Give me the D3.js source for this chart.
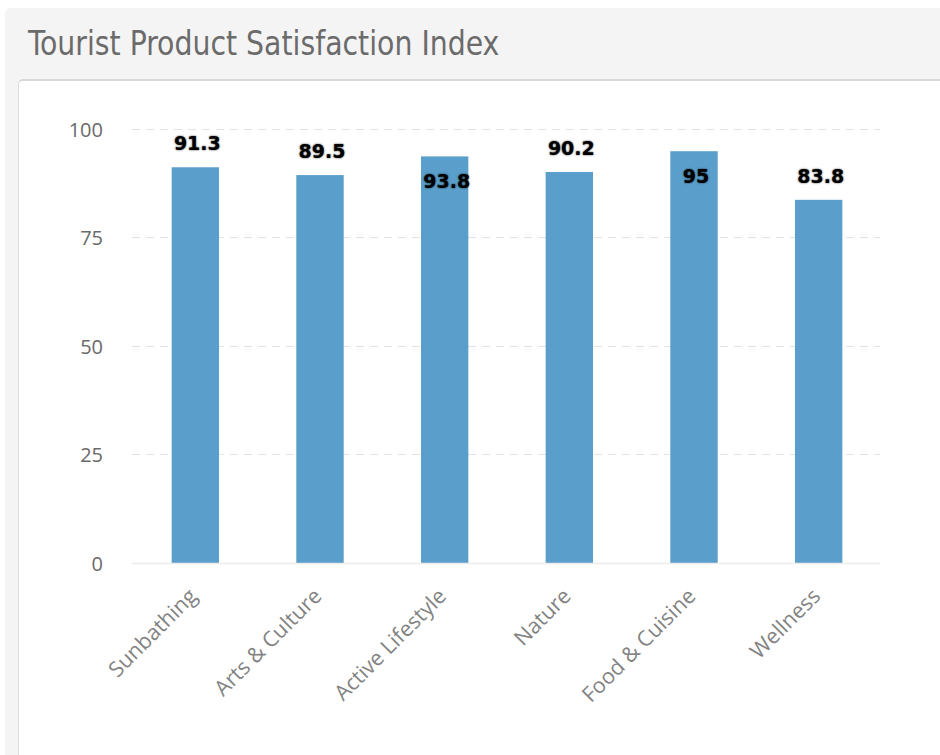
<!DOCTYPE html>
<html>
<head>
<meta charset="utf-8">
<script src="https://cdn.jsdelivr.net/npm/d3@7"></script>
<style>
  html, body { margin: 0; padding: 0; background: #fff; width: 940px; height: 755px; overflow: hidden; }
  .panel { position: absolute; left: 5px; top: 8px; width: 960px; height: 800px; background: #f4f4f4; border-radius: 6px; }
  .title { position: absolute; left: 23px; top: 16px; font-family: "DejaVu Sans Condensed", "DejaVu Sans", sans-serif; font-size: 31.5px; color: #6b6b6b; white-space: nowrap; transform: scaleY(1.08); transform-origin: left top; }
  .card { position: absolute; left: 13px; top: 71px; width: 960px; height: 800px; background: #fff; border: 1px solid #dcdcdc; border-top: 2px solid #d8d8d8; border-radius: 5px; }
  svg { position: absolute; left: 0; top: 0; }
</style>
</head>
<body>
<div class="panel">
  <div class="title">Tourist Product Satisfaction Index</div>
  <div class="card"></div>
</div>
<svg id="chart" width="940" height="755"></svg>
<script>
const categories = ["Sunbathing", "Arts & Culture", "Active Lifestyle", "Nature", "Food & Cuisine", "Wellness"];
const values = [91.3, 89.5, 93.8, 90.2, 95, 83.8];
const yTicks = [0, 25, 50, 75, 100];

const svg = d3.select("#chart");
const pLeft = 133, pRight = 881, pTop = 129.5, pBottom = 563.5;

const x = d3.scaleBand().domain(categories).range([pLeft, pRight]).paddingInner(0.62).paddingOuter(0.31);
const y = d3.scaleLinear().domain([0, 100]).range([pBottom, pTop]);

// gridlines
svg.append("g").selectAll("line").data(yTicks.filter(d => d !== 0)).join("line")
  .attr("x1", pLeft - 1).attr("x2", pRight - 1)
  .attr("y1", d => Math.round(y(d)) - 0.5).attr("y2", d => Math.round(y(d)) - 0.5)
  .attr("stroke", "#e3e3e3").attr("stroke-width", 1).attr("stroke-dasharray", "8,6");

// y axis labels
const yAxis = d3.axisLeft(y).tickValues(yTicks).tickSize(0).tickPadding(0).tickFormat(d3.format("d"));
const yg = svg.append("g").attr("transform", `translate(${pLeft - 30},0)`).call(yAxis);
yg.select(".domain").remove();
yg.selectAll("text").attr("font-family", "Open Sans, sans-serif").attr("font-size", 20).attr("fill", "#6a6a6a").attr("dy", "0.34em");

// bars
svg.append("g").selectAll("rect").data(values).join("rect")
  .attr("x", (d, i) => x(categories[i]))
  .attr("width", x.bandwidth())
  .attr("y", d => y(d))
  .attr("height", d => pBottom - y(d))
  .attr("fill", "#5a9fcb");

// baseline
svg.append("line").attr("x1", pLeft - 1).attr("x2", pRight - 1)
  .attr("y1", Math.round(pBottom) - 0.5).attr("y2", Math.round(pBottom) - 0.5)
  .attr("stroke", "#ececec").attr("stroke-width", 1.5);

// x axis labels
const xAxis = d3.axisBottom(x).tickSize(0).tickPadding(0);
const xg = svg.append("g").attr("transform", `translate(0,${pBottom})`).call(xAxis);
xg.select(".domain").remove();
xg.selectAll("text")
  .attr("font-family", "Open Sans, sans-serif").attr("font-size", 21.5).attr("fill", "#838383")
  .attr("text-anchor", "end").attr("dy", null).attr("y", 0)
  .attr("transform", "translate(3,34) rotate(-45)");

// data labels
svg.append("g").selectAll("text").data(values).join("text")
  .attr("x", (d, i) => x(categories[i]) + x.bandwidth() / 2 + 2)
  .attr("y", d => d > 93 ? y(d) + 32 : y(d) - 17)
  .attr("text-anchor", "middle")
  .attr("font-family", "DejaVu Sans, sans-serif").attr("font-weight", "bold").attr("font-size", 19)
  .attr("fill", "#000")
  .style("text-shadow", "0 0 2px rgba(0,0,0,0.8)")
  .text(d => d);
</script>
</body>
</html>
